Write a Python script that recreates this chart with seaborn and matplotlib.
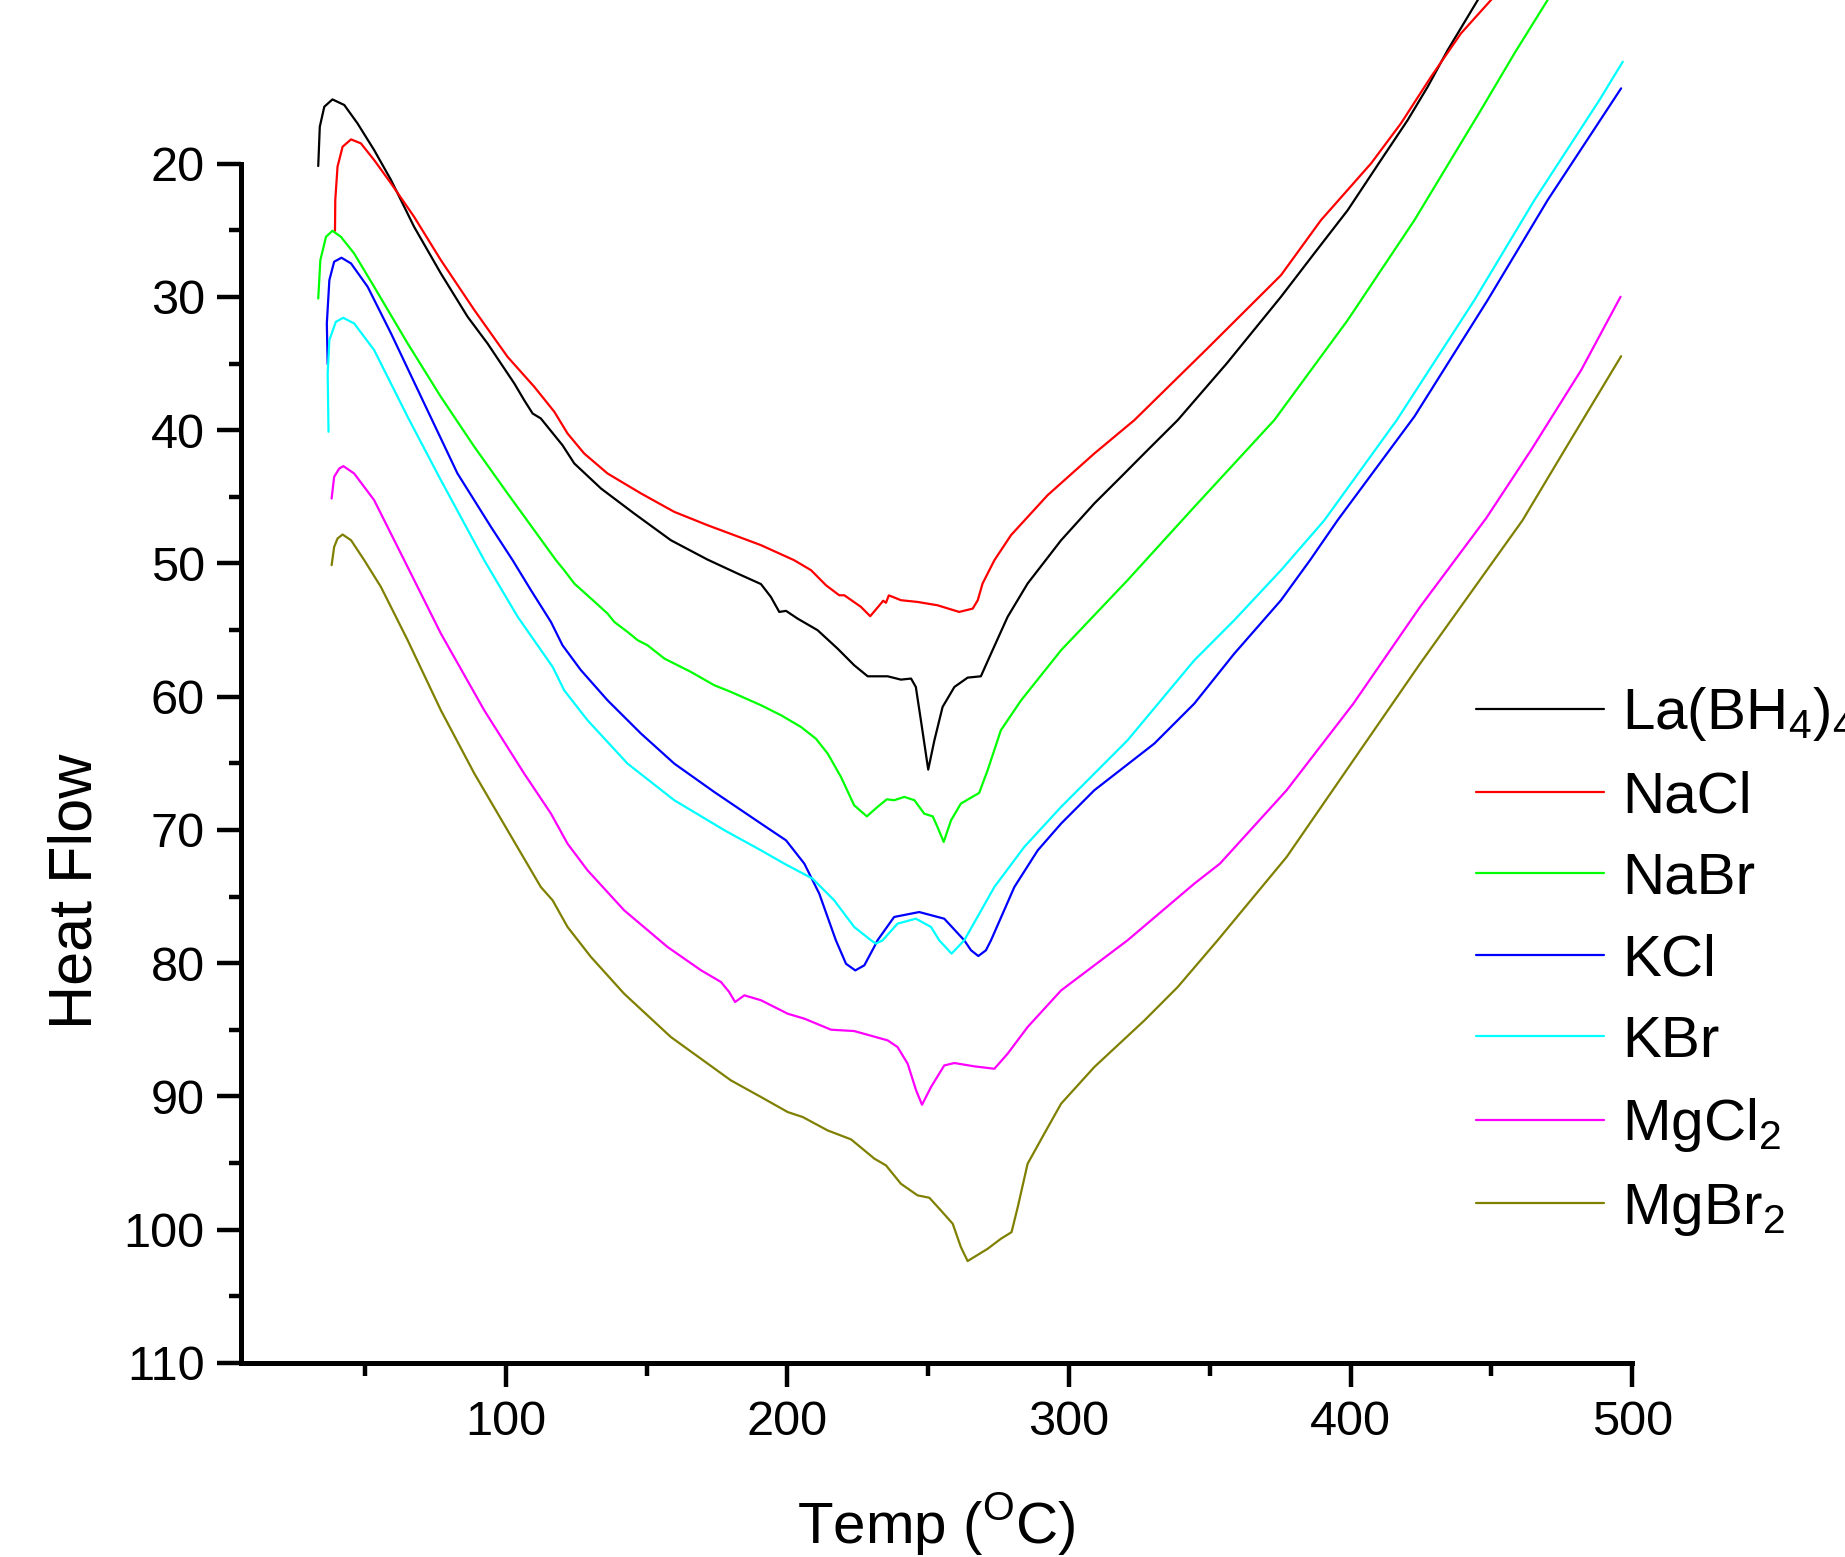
import numpy as np
import pandas as pd
import seaborn as sns
import matplotlib.pyplot as plt
from matplotlib.ticker import MultipleLocator

# DSC traces, values
# temperature (C) and heat flow for each sample
la_t = [33.35, 33.9, 35.5, 38.4, 42.6, 47.3, 53.2, 59.2, 67.4, 76.9, 86.4, 93.5, 103.0, 106.5,
        109.5, 112.4, 120.1, 124.3, 133.8, 145.6, 158.6, 171.6, 182.3, 190.6, 194.1, 197.1, 199.5,
        203.6, 210.7, 217.8, 223.7, 228.5, 235.6, 240.3, 243.9, 245.6, 247.4, 250.0, 252.2, 255.1,
        259.3, 264.0, 268.7, 272.3, 278.2, 285.3, 297.2, 309.0, 318.5, 327.9, 338.6, 356.0, 375.3,
        387.1, 399.0, 410.8, 420.3, 427.4, 434.5, 445.2, 448.0]
la_hf = [20.18, 17.23, 15.73, 15.18, 15.6, 16.98, 18.98, 21.23, 24.74, 28.24, 31.49, 33.5, 36.5, 37.75,
         38.75, 39.12, 41.13, 42.5, 44.38, 46.26, 48.26, 49.71, 50.76, 51.55, 52.51, 53.64, 53.56,
         54.14, 55.01, 56.39, 57.64, 58.47, 58.47, 58.72, 58.64, 59.27, 61.77, 65.47, 63.27, 60.77,
         59.27, 58.57, 58.47, 56.77, 54.01, 51.51, 48.26, 45.5, 43.5, 41.5, 39.25, 35.0, 29.99,
         26.74, 23.49, 19.73, 16.73, 14.23, 11.48, 7.72, 6.7]

nacl_t = [39.3, 39.4, 40.2, 42.0, 45.0, 48.5, 53.2, 59.2, 67.4, 76.9, 88.8, 100.6, 110.1, 117.2,
          121.9, 127.8, 136.1, 148.0, 159.8, 171.6, 190.6, 202.4, 208.4, 213.7, 218.4, 220.2, 226.1,
          229.4, 233.2, 234.0, 235.0, 236.0, 237.4, 240.3, 246.2, 253.3, 261.0, 265.8, 267.6, 269.3,
          273.5, 279.4, 292.4, 309.0, 323.2, 349.0, 375.3, 389.5, 407.3, 417.9, 428.6, 439.2, 449.9,
          453.0]
nacl_hf = [25.04, 22.73, 20.23, 18.73, 18.18, 18.48, 19.73, 21.48, 23.99, 27.24, 30.99, 34.5, 36.75, 38.62,
           40.25, 41.75, 43.25, 44.75, 46.13, 47.13, 48.63, 49.76, 50.51, 51.64, 52.39, 52.39, 53.26,
           53.96, 53.01, 52.8, 52.95, 52.4, 52.51, 52.76, 52.89, 53.14, 53.64, 53.39, 52.76, 51.51,
           49.76, 47.88, 44.88, 41.75, 39.25, 33.9, 28.37, 24.24, 19.98, 16.98, 13.48, 10.23, 7.72,
           6.8]

nabr_t = [33.35, 34.1, 36.1, 38.4, 41.4, 46.1, 53.2, 65.1, 76.9, 88.8, 100.6, 117.8, 120.7, 124.3,
          130.2, 136.1, 138.5, 143.2, 146.8, 150.3, 156.3, 165.7, 174.0, 179.9, 190.6, 197.7, 204.8,
          210.1, 214.3, 219.0, 223.7, 228.2, 232.0, 235.3, 237.9, 241.5, 245.1, 248.6, 251.6, 253.3,
          255.5, 258.1, 261.6, 268.1, 271.1, 275.8, 283.0, 297.2, 320.8, 344.5, 372.9, 399.0, 422.7,
          446.3, 458.2, 470.0, 473.0]
nabr_hf = [30.12, 27.24, 25.49, 25.04, 25.49, 26.74, 29.24, 33.49, 37.5, 41.25, 44.75, 49.76, 50.51, 51.51,
           52.63, 53.76, 54.39, 55.14, 55.76, 56.14, 57.14, 58.14, 59.14, 59.64, 60.64, 61.39, 62.27,
           63.15, 64.27, 66.02, 68.15, 68.98, 68.27, 67.7, 67.77, 67.52, 67.77, 68.78, 68.98, 69.78,
           70.9, 69.28, 68.02, 67.22, 65.52, 62.52, 60.27, 56.51, 51.26, 45.76, 39.25, 31.74, 24.24,
           15.98, 11.73, 7.72, 6.8]

kcl_t = [36.7, 36.4, 37.3, 39.0, 41.6, 45.0, 50.9, 59.2, 71.0, 82.8, 94.7, 102.4, 108.9, 116.0,
         120.1, 126.6, 136.1, 148.0, 159.8, 174.0, 190.6, 199.5, 206.0, 211.3, 217.2, 220.8, 224.1,
         227.3, 230.8, 232.0, 237.9, 246.8, 255.7, 262.8, 265.2, 267.8, 270.5, 272.3, 280.6, 288.9,
         297.2, 309.0, 330.3, 344.5, 358.7, 375.3, 385.6, 395.4, 422.7, 448.7, 470.0, 496.1]
kcl_hf = [35.05, 31.99, 28.74, 27.36, 27.06, 27.49, 29.24, 32.74, 38.0, 43.25, 47.26, 49.76, 52.01, 54.39,
          56.14, 58.0, 60.27, 62.77, 65.02, 67.15, 69.52, 70.78, 72.53, 74.78, 78.28, 80.04, 80.54,
          80.16, 78.78, 78.28, 76.53, 76.16, 76.66, 78.28, 79.03, 79.46, 79.03, 78.28, 74.28, 71.53,
          69.52, 67.02, 63.52, 60.52, 56.77, 52.76, 49.76, 46.76, 38.97, 30.24, 22.74, 14.35]

kbr_t = [37.0, 36.7, 37.3, 39.6, 42.2, 46.1, 53.2, 65.1, 76.9, 92.3, 104.2, 116.6, 120.7, 129.0,
         143.2, 159.8, 177.6, 190.6, 198.9, 208.9, 216.6, 223.7, 229.7, 231.4, 233.8, 239.1, 245.6,
         251.0, 253.9, 258.3, 262.8, 273.5, 284.1, 297.2, 320.8, 344.5, 358.7, 375.3, 390.7, 416.4,
         444.0, 465.3, 488.4, 496.7]
kbr_hf = [40.12, 35.75, 33.24, 31.87, 31.57, 31.99, 33.99, 39.0, 43.75, 49.76, 54.01, 57.76, 59.52, 61.77,
          65.02, 67.77, 70.02, 71.53, 72.53, 73.65, 75.28, 77.28, 78.28, 78.53, 78.28, 77.03, 76.66,
          77.28, 78.28, 79.28, 78.28, 74.28, 71.28, 68.27, 63.27, 57.27, 54.26, 50.51, 46.76, 39.25,
          30.24, 22.74, 15.23, 12.35]

mgcl2_t = [38.1, 39.0, 40.8, 42.3, 46.1, 53.2, 63.9, 76.9, 92.3, 106.5, 116.0, 121.9, 129.0, 142.0,
           157.4, 169.3, 176.4, 179.3, 181.4, 184.7, 190.6, 200.1, 206.0, 215.5, 223.7, 235.6, 239.1,
           242.7, 245.7, 247.8, 251.0, 255.7, 259.3, 266.4, 273.5, 278.2, 285.3, 297.2, 309.0, 320.8,
           344.5, 353.6, 377.3, 401.0, 424.7, 448.2, 464.1, 481.9, 495.9]
mgcl2_hf = [45.13, 43.5, 42.88, 42.7, 43.25, 45.25, 49.76, 55.26, 61.02, 65.77, 68.77, 71.03, 73.03, 76.03,
            78.78, 80.53, 81.41, 82.16, 82.91, 82.41, 82.78, 83.79, 84.16, 84.99, 85.09, 85.79, 86.29,
            87.54, 89.54, 90.62, 89.29, 87.67, 87.49, 87.74, 87.92, 86.79, 84.79, 82.04, 80.16, 78.28,
            74.03, 72.53, 67.02, 60.52, 53.26, 46.6, 41.5, 35.5, 29.99]

mgbr2_t = [38.1, 39.0, 40.2, 42.0, 45.0, 49.7, 55.6, 65.1, 76.9, 88.8, 100.6, 112.4, 116.6, 121.9,
           130.2, 142.0, 158.6, 179.9, 190.6, 200.1, 205.4, 214.3, 222.6, 230.9, 235.0, 240.3, 246.2,
           250.4, 254.5, 258.7, 261.6, 264.0, 271.1, 275.8, 279.6, 281.8, 285.3, 291.2, 297.2, 309.0,
           326.8, 338.6, 352.8, 377.3, 401.0, 424.7, 461.1, 476.0, 496.1]
mgbr2_hf = [50.13, 48.76, 48.13, 47.83, 48.26, 49.76, 51.76, 55.76, 61.02, 65.77, 70.03, 74.28, 75.28, 77.28,
            79.53, 82.29, 85.54, 88.79, 90.04, 91.17, 91.54, 92.55, 93.22, 94.67, 95.17, 96.55, 97.42,
            97.6, 98.55, 99.55, 101.3, 102.35, 101.43, 100.68, 100.18, 98.3, 95.05, 92.8, 90.54, 87.79,
            84.29, 81.79, 78.28, 72.03, 64.77, 57.52, 46.76, 41.5, 34.45]

labels = [r'La(BH$_\mathregular{4}$)$_\mathregular{4}$', 'NaCl', 'NaBr', 'KCl', 'KBr',
          r'MgCl$_\mathregular{2}$', r'MgBr$_\mathregular{2}$']
colors = ['#000000', '#ff0000', '#00ff00', '#0000ff', '#00ffff', '#ff00ff', '#808000']

sns.set_theme(style='ticks')
plt.rcParams['font.family'] = ['Liberation Sans', 'DejaVu Sans']
plt.rcParams['mathtext.fontset'] = 'custom'
plt.rcParams['mathtext.rm'] = 'Liberation Sans'
plt.rcParams['axes.edgecolor'] = 'black'
plt.rcParams['xtick.color'] = 'black'
plt.rcParams['ytick.color'] = 'black'
plt.rcParams['text.color'] = 'black'
plt.rcParams['axes.labelcolor'] = 'black'

fig = plt.figure(figsize=(18.45, 15.57), dpi=100)
ax = fig.add_axes([0.1306, 0.1246, 0.754, 0.7703])

traces = [(la_t, la_hf), (nacl_t, nacl_hf), (nabr_t, nabr_hf), (kcl_t, kcl_hf),
          (kbr_t, kbr_hf), (mgcl2_t, mgcl2_hf), (mgbr2_t, mgbr2_hf)]
for (t, hf), c, lab in zip(traces, colors, labels):
    sns.lineplot(x=t, y=hf, color=c, label=lab, sort=False, estimator=None,
                 lw=1.6, clip_on=False, ax=ax)

ax.set_xlim(5.9, 500)
ax.set_ylim(110, 20)
sns.despine(ax=ax)
for s in ['left', 'bottom']:
    ax.spines[s].set_linewidth(3.6)

ax.xaxis.set_major_locator(MultipleLocator(100))
ax.xaxis.set_minor_locator(MultipleLocator(50))
ax.yaxis.set_major_locator(MultipleLocator(10))
ax.yaxis.set_minor_locator(MultipleLocator(5))
ax.tick_params(which='major', length=17, width=3.2, direction='out', labelsize=35)
ax.tick_params(which='minor', length=9, width=3.2, direction='out')
ax.tick_params(axis='x', which='major', pad=10)
ax.tick_params(axis='y', which='major', pad=9)

ax.set_xlabel(r'Temp ($^{\mathregular{O}}$C)', fontsize=42)
ax.set_ylabel('Heat Flow', fontsize=44)
ax.xaxis.set_label_coords(0.5, -0.107)
ax.yaxis.set_label_coords(-0.098, 0.3935)

# the last label runs past the right edge, as in the original
ax.legend(loc='upper left', bbox_to_anchor=(0.8, 0.560), bbox_transform=fig.transFigure,
          frameon=False, fontsize=42, handlelength=2.2, handletextpad=0.3,
          labelspacing=0.47, borderpad=0, borderaxespad=0)

fig.savefig('out.png', dpi=100)
